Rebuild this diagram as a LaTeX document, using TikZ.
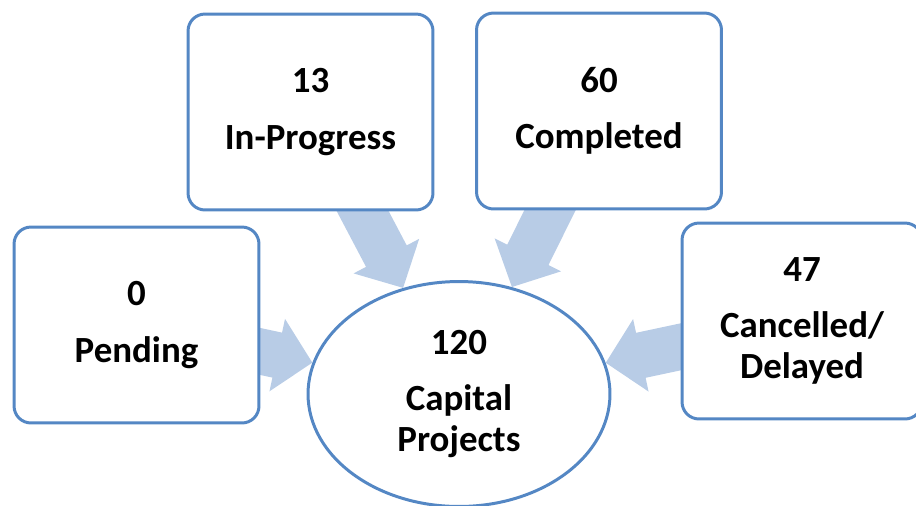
\documentclass[tikz,border=0pt]{standalone}
\usepackage{fontspec}
\setmainfont{Carlito}
\usetikzlibrary{arrows.meta,shapes.geometric,backgrounds}

\definecolor{box edge}{RGB}{84,135,196}
\definecolor{flow area}{RGB}{184,204,230}
\tikzset{
  status/.style={rectangle, rounded corners=0.34cm, draw=box edge, line width=1.7pt,
    fill=white, minimum width=4.9cm, minimum height=3.92cm, align=center,
    font=\fontsize{21}{23}\selectfont\bfseries},
  total/.style={ellipse, draw=box edge, line width=1.7pt, fill=white,
    minimum width=6.04cm, minimum height=4.5cm, inner sep=0pt, align=center,
    font=\fontsize{21}{23}\selectfont\bfseries}
  }
\tikzstyle{flow} = [draw=flow area, line width=0.92cm, shorten <=-0.3cm,
  -{Triangle[width=1.44cm,length=0.72cm]}]

\begin{document}
\begin{tikzpicture}[x=0.02cm, y=-0.02cm]
  \useasboundingbox (0,0) rectangle (916,505);

  \node[total] (capital) at (459,394) {120\\[9pt]Capital\\Projects};

  \node[status] (pending) at (136.5,325) {0\\[9pt]Pending};
  \node[status] (progress) at (310.5,112) {13\\[9pt]In-Progress};
  \node[status] (completed) at (599,111) {60\\[9pt]Completed};
  \node[status, minimum width=4.8cm] (cancelled) at (802,321) {47\\[9pt]Cancelled/\\Delayed};

  \begin{scope}[on background layer]
    \foreach \src in {pending, progress, completed, cancelled} {
      \draw[flow] (\src) -- (capital);
    }
  \end{scope}
\end{tikzpicture}
\end{document}
